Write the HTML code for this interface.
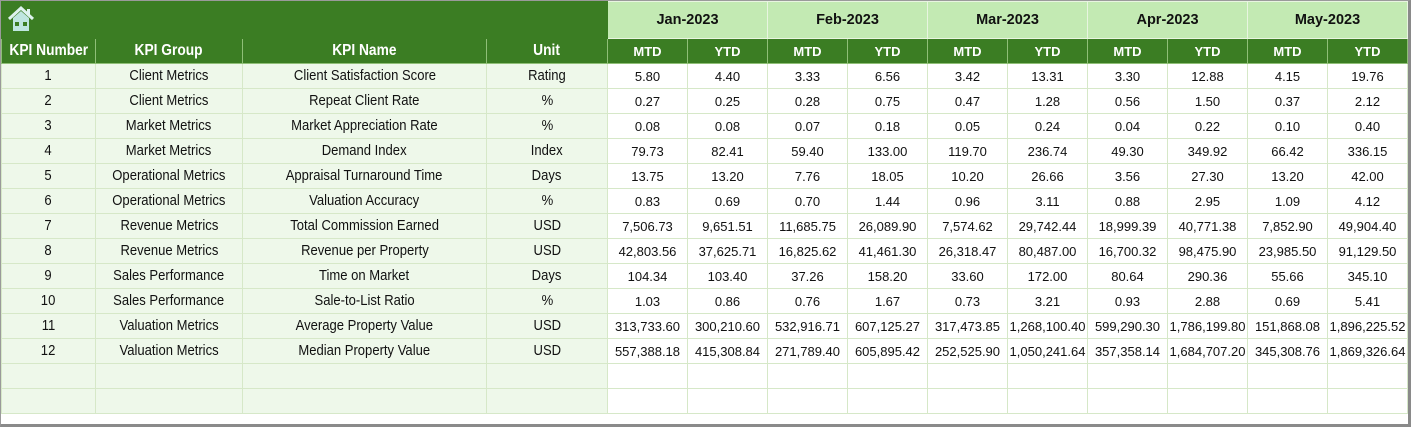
<!DOCTYPE html>
<html><head><meta charset="utf-8"><style>
body{margin:0;width:1424px;height:428px;background:#fff;overflow:hidden;position:relative;font-family:"Liberation Sans",sans-serif}
.frame{position:absolute;left:0;top:0;width:1407px;height:423px;border-right:3px solid #8a8a8a;border-bottom:3px solid #8a8a8a;border-left:1px solid #9a9a9a;border-top:1px solid #9a9a9a;box-sizing:content-box}
table{position:absolute;left:1px;top:1px;border-collapse:collapse;table-layout:fixed}
td{padding:0;text-align:center;border:1px solid #d6e8c8;font-size:13px;color:#111;height:24px;white-space:nowrap;overflow:hidden}
.n span{display:inline-block;transform:scaleX(0.9);font-size:14.5px}
.l{background:#eef8ea}
.h1 td{height:36px}
.dg{background:#3b7d23;border-color:#3b7d23}
.mo{background:#c3eab3;font-weight:bold;font-size:14.5px;border:1px solid #e8f5e0}
.h2 td{background:#3b7d23;color:#fff;font-weight:bold;border-color:#8fbf77}
.h2 .n span{font-size:16px;transform:scaleX(0.86)}
</style></head><body>
<div class="frame"></div>
<table>
<colgroup><col style="width:94px"><col style="width:147px"><col style="width:244px"><col style="width:121px"><col span="10" style="width:80px"></colgroup>
<tr class="h1"><td colspan="4" class="dg" style="text-align:left;padding-left:4px">
<svg width="30" height="28" viewBox="0 0 30 28"><path d="M3 14 L15 3 L27 14" fill="none" stroke="#dff3ef" stroke-width="3"/><rect x="21" y="4" width="3" height="6" fill="#dff3ef"/><path d="M7 13 L15 6 L23 13 V26 H7Z" fill="#bfe6e0"/><rect x="9" y="17" width="4" height="4" fill="#3b7d23"/><rect x="17" y="17" width="4" height="4" fill="#3b7d23"/></svg></td>
<td colspan="2" class="mo">Jan-2023</td><td colspan="2" class="mo">Feb-2023</td><td colspan="2" class="mo">Mar-2023</td><td colspan="2" class="mo">Apr-2023</td><td colspan="2" class="mo">May-2023</td></tr>
<tr class="h2"><td class="n"><span>KPI Number</span></td><td class="n"><span>KPI Group</span></td><td class="n"><span>KPI Name</span></td><td class="n"><span>Unit</span></td><td>MTD</td><td>YTD</td><td>MTD</td><td>YTD</td><td>MTD</td><td>YTD</td><td>MTD</td><td>YTD</td><td>MTD</td><td>YTD</td></tr>
<tr><td class="n l"><span>1</span></td><td class="n l"><span>Client Metrics</span></td><td class="n l"><span>Client Satisfaction Score</span></td><td class="n l"><span>Rating</span></td><td>5.80</td><td>4.40</td><td>3.33</td><td>6.56</td><td>3.42</td><td>13.31</td><td>3.30</td><td>12.88</td><td>4.15</td><td>19.76</td></tr>
<tr><td class="n l"><span>2</span></td><td class="n l"><span>Client Metrics</span></td><td class="n l"><span>Repeat Client Rate</span></td><td class="n l"><span>%</span></td><td>0.27</td><td>0.25</td><td>0.28</td><td>0.75</td><td>0.47</td><td>1.28</td><td>0.56</td><td>1.50</td><td>0.37</td><td>2.12</td></tr>
<tr><td class="n l"><span>3</span></td><td class="n l"><span>Market Metrics</span></td><td class="n l"><span>Market Appreciation Rate</span></td><td class="n l"><span>%</span></td><td>0.08</td><td>0.08</td><td>0.07</td><td>0.18</td><td>0.05</td><td>0.24</td><td>0.04</td><td>0.22</td><td>0.10</td><td>0.40</td></tr>
<tr><td class="n l"><span>4</span></td><td class="n l"><span>Market Metrics</span></td><td class="n l"><span>Demand Index</span></td><td class="n l"><span>Index</span></td><td>79.73</td><td>82.41</td><td>59.40</td><td>133.00</td><td>119.70</td><td>236.74</td><td>49.30</td><td>349.92</td><td>66.42</td><td>336.15</td></tr>
<tr><td class="n l"><span>5</span></td><td class="n l"><span>Operational Metrics</span></td><td class="n l"><span>Appraisal Turnaround Time</span></td><td class="n l"><span>Days</span></td><td>13.75</td><td>13.20</td><td>7.76</td><td>18.05</td><td>10.20</td><td>26.66</td><td>3.56</td><td>27.30</td><td>13.20</td><td>42.00</td></tr>
<tr><td class="n l"><span>6</span></td><td class="n l"><span>Operational Metrics</span></td><td class="n l"><span>Valuation Accuracy</span></td><td class="n l"><span>%</span></td><td>0.83</td><td>0.69</td><td>0.70</td><td>1.44</td><td>0.96</td><td>3.11</td><td>0.88</td><td>2.95</td><td>1.09</td><td>4.12</td></tr>
<tr><td class="n l"><span>7</span></td><td class="n l"><span>Revenue Metrics</span></td><td class="n l"><span>Total Commission Earned</span></td><td class="n l"><span>USD</span></td><td>7,506.73</td><td>9,651.51</td><td>11,685.75</td><td>26,089.90</td><td>7,574.62</td><td>29,742.44</td><td>18,999.39</td><td>40,771.38</td><td>7,852.90</td><td>49,904.40</td></tr>
<tr><td class="n l"><span>8</span></td><td class="n l"><span>Revenue Metrics</span></td><td class="n l"><span>Revenue per Property</span></td><td class="n l"><span>USD</span></td><td>42,803.56</td><td>37,625.71</td><td>16,825.62</td><td>41,461.30</td><td>26,318.47</td><td>80,487.00</td><td>16,700.32</td><td>98,475.90</td><td>23,985.50</td><td>91,129.50</td></tr>
<tr><td class="n l"><span>9</span></td><td class="n l"><span>Sales Performance</span></td><td class="n l"><span>Time on Market</span></td><td class="n l"><span>Days</span></td><td>104.34</td><td>103.40</td><td>37.26</td><td>158.20</td><td>33.60</td><td>172.00</td><td>80.64</td><td>290.36</td><td>55.66</td><td>345.10</td></tr>
<tr><td class="n l"><span>10</span></td><td class="n l"><span>Sales Performance</span></td><td class="n l"><span>Sale-to-List Ratio</span></td><td class="n l"><span>%</span></td><td>1.03</td><td>0.86</td><td>0.76</td><td>1.67</td><td>0.73</td><td>3.21</td><td>0.93</td><td>2.88</td><td>0.69</td><td>5.41</td></tr>
<tr><td class="n l"><span>11</span></td><td class="n l"><span>Valuation Metrics</span></td><td class="n l"><span>Average Property Value</span></td><td class="n l"><span>USD</span></td><td>313,733.60</td><td>300,210.60</td><td>532,916.71</td><td>607,125.27</td><td>317,473.85</td><td>1,268,100.40</td><td>599,290.30</td><td>1,786,199.80</td><td>151,868.08</td><td>1,896,225.52</td></tr>
<tr><td class="n l"><span>12</span></td><td class="n l"><span>Valuation Metrics</span></td><td class="n l"><span>Median Property Value</span></td><td class="n l"><span>USD</span></td><td>557,388.18</td><td>415,308.84</td><td>271,789.40</td><td>605,895.42</td><td>252,525.90</td><td>1,050,241.64</td><td>357,358.14</td><td>1,684,707.20</td><td>345,308.76</td><td>1,869,326.64</td></tr>
<tr><td class="l"></td><td class="l"></td><td class="l"></td><td class="l"></td><td></td><td></td><td></td><td></td><td></td><td></td><td></td><td></td><td></td><td></td></tr>
<tr><td class="l" style="height:22px"></td><td class="l"></td><td class="l"></td><td class="l"></td><td></td><td></td><td></td><td></td><td></td><td></td><td></td><td></td><td></td><td></td></tr>
</table>
</body></html>
